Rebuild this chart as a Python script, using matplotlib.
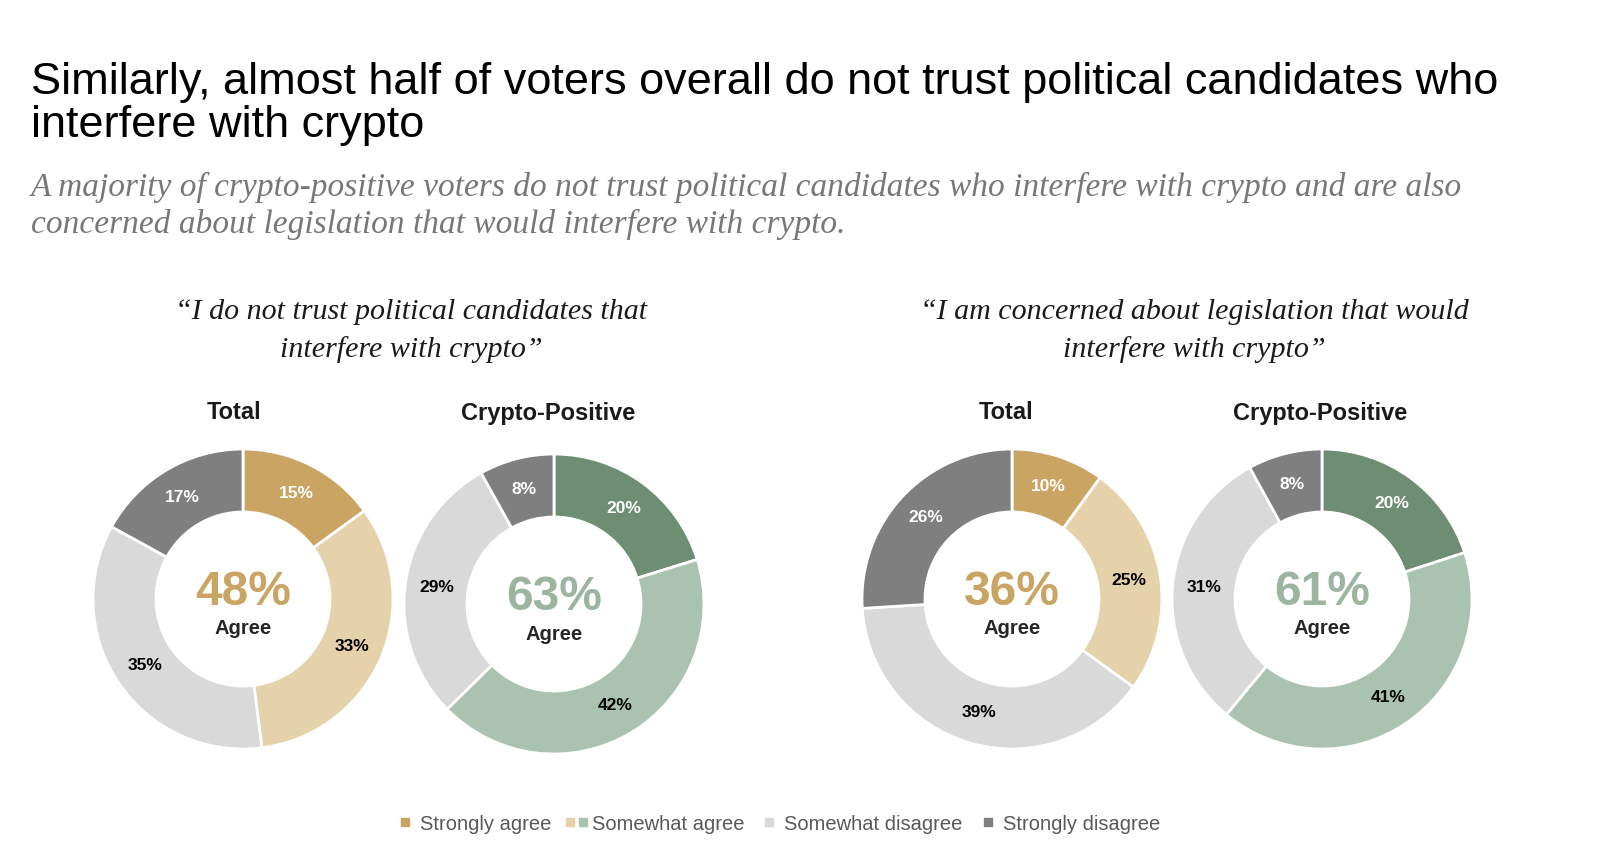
import matplotlib.pyplot as plt
from matplotlib.lines import Line2D
from matplotlib.legend_handler import HandlerTuple

# ---- data ----
CATEGORIES = ["Strongly agree", "Somewhat agree", "Somewhat disagree", "Strongly disagree"]

TRUST_TOTAL = [15, 33, 35, 17]
TRUST_CRYPTO = [20, 42, 29, 8]
LEGIS_TOTAL = [10, 25, 39, 26]
LEGIS_CRYPTO = [20, 41, 31, 8]

TRUST_AGREE = [48, 63]
LEGIS_AGREE = [36, 61]

GROUPS = ["Total", "Crypto-Positive"]

TITLE = ("Similarly, almost half of voters overall do not trust political candidates who\n"
         "interfere with crypto")
SUBTITLE = ("A majority of crypto-positive voters do not trust political candidates who interfere "
            "with crypto and are also\nconcerned about legislation that would interfere with crypto.")
QUOTE_LEFT = "\u201cI do not trust political candidates that\ninterfere with crypto\u201d"
QUOTE_RIGHT = "\u201cI am concerned about legislation that would\ninterfere with crypto\u201d"

# ---- styling ----
GOLD = "#C9A463"
TAN = "#E5D2AB"
DARK_GREEN = "#6E8E74"
LIGHT_GREEN = "#A9C3B0"
LIGHT_GREY = "#D9D9D9"
DARK_GREY = "#7F7F7F"

TOTAL_COLORS = [GOLD, TAN, LIGHT_GREY, DARK_GREY]
CRYPTO_COLORS = [DARK_GREEN, LIGHT_GREEN, LIGHT_GREY, DARK_GREY]
TOTAL_CENTER = "#C9A463"
CRYPTO_CENTER = "#9BB5A1"

SANS = "Liberation Sans"
SERIF = "Liberation Serif"

W, H = 1600, 841
fig = plt.figure(figsize=(W / 100, H / 100), dpi=100)
fig.patch.set_facecolor("white")


def px(x, y):
    """Pixel coordinates (top-left origin) to figure fraction."""
    return x / W, 1 - y / H


def draw_donut(cx, cy, values, colors, agree, center_color, header, header_x, header_y):
    radius_px = 150
    left, bottom = px(cx - radius_px, cy + radius_px)
    ax = fig.add_axes([left, bottom, 2 * radius_px / W, 2 * radius_px / H])

    wedges, texts = ax.pie(
        values,
        colors=colors,
        startangle=90,
        counterclock=False,
        radius=1.0,
        labels=[f"{v}%" for v in values],
        labeldistance=0.79,
        wedgeprops=dict(width=0.42, edgecolor="white", linewidth=2),
        textprops=dict(fontsize=12.5, fontweight="bold", family=SANS),
    )
    for text, color in zip(texts, colors):
        text.set_ha("center")
        text.set_va("center")
        text.set_color("white" if color in (GOLD, DARK_GREEN, DARK_GREY) else "black")

    ax.text(0, 0.045, f"{agree}%", ha="center", va="center", fontsize=34.5,
            fontweight="bold", color=center_color, family=SANS)
    ax.text(0, -0.2, "Agree", ha="center", va="center", fontsize=14.5,
            fontweight="bold", color="#262626", family=SANS)
    ax.set_xlim(-1.0, 1.0)
    ax.set_ylim(-1.0, 1.0)
    ax.axis("off")

    hx, hy = px(header_x, header_y)
    fig.text(hx, hy, header, ha="center", va="center", fontsize=17,
             fontweight="bold", family=SANS, color="#1a1a1a")


# titles
tx, ty = px(31, 62)
fig.text(tx, ty, TITLE, ha="left", va="top", fontsize=32.5, family=SANS,
         color="black", linespacing=1.07)
sx, sy = px(31, 172)
fig.text(sx, sy, SUBTITLE, ha="left", va="top", fontsize=24, family=SERIF,
         style="italic", color="#777777", linespacing=1.25)

qx, qy = px(411, 331)
fig.text(qx, qy, QUOTE_LEFT, ha="center", va="center", fontsize=21.6, family=SERIF,
         style="italic", color="#1a1a1a", linespacing=1.48)
qx, qy = px(1194, 331)
fig.text(qx, qy, QUOTE_RIGHT, ha="center", va="center", fontsize=21.6, family=SERIF,
         style="italic", color="#1a1a1a", linespacing=1.48)

draw_donut(243, 599, TRUST_TOTAL, TOTAL_COLORS, TRUST_AGREE[0], TOTAL_CENTER,
           GROUPS[0], 234, 413)
draw_donut(554, 604, TRUST_CRYPTO, CRYPTO_COLORS, TRUST_AGREE[1], CRYPTO_CENTER,
           GROUPS[1], 548, 414)
draw_donut(1012, 599, LEGIS_TOTAL, TOTAL_COLORS, LEGIS_AGREE[0], TOTAL_CENTER,
           GROUPS[0], 1006, 413)
draw_donut(1322, 599, LEGIS_CRYPTO, CRYPTO_COLORS, LEGIS_AGREE[1], CRYPTO_CENTER,
           GROUPS[1], 1320, 414)


# legend
def square(color):
    return Line2D([], [], marker="s", linestyle="none", markersize=6,
                  markerfacecolor=color, markeredgecolor=color)


handles = [
    square(GOLD),
    (square(TAN), square(LIGHT_GREEN)),
    square(LIGHT_GREY),
    square(DARK_GREY),
]
lx, ly = px(776, 824)
leg = fig.legend(
    handles, CATEGORIES,
    loc="center", bbox_to_anchor=(lx, ly), ncol=4, frameon=False,
    handler_map={tuple: HandlerTuple(ndivide=None, pad=0)},
    handlelength=1.3, handletextpad=0.1, columnspacing=0.6,
    prop=dict(family=SANS, size=14.5),
)
for text in leg.get_texts():
    text.set_color("#595959")

fig.savefig("out.png", dpi=100, facecolor="white")
